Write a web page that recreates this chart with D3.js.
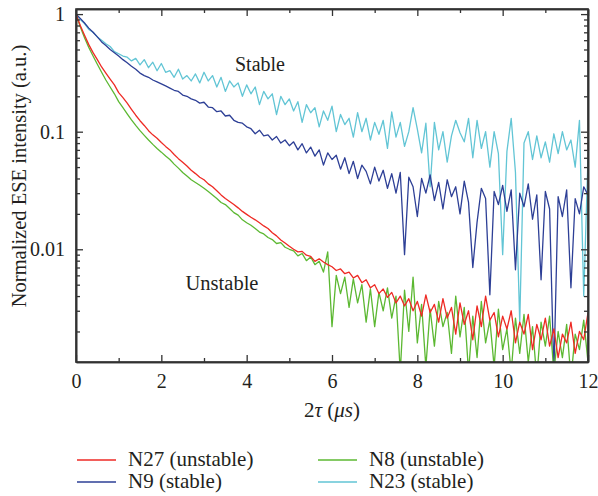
<!DOCTYPE html>
<html>
<head>
<meta charset="utf-8">
<script src="https://cdn.jsdelivr.net/npm/d3@7"></script>
<style>
  html, body { margin: 0; padding: 0; background: #fff; }
  svg { display: block; }
  text { font-family: "Liberation Serif", "Times New Roman", serif; fill: #231f20; }
</style>
</head>
<body>
<svg id="chart" width="598" height="496"></svg>
<script>
// ---- data ----
const sampleStep = 0.1; // µs between samples, t = 0 ... 12
const xTicks = [0, 2, 4, 6, 8, 10, 12];
const yTicks = [1, 0.1, 0.01];
const yTickLabels = ["1", "0.1", "0.01"];
const seriesNames = ["N27 (unstable)", "N8 (unstable)", "N9 (stable)", "N23 (stable)"];

const N27 = [
 1.0,0.80,0.66,0.55,0.47,0.41,0.355,0.315,0.28,0.25,
 0.215,0.195,0.175,0.155,0.138,0.124,0.113,0.102,0.094,0.088,
 0.081,0.075,0.070,0.064,0.059,0.055,0.051,0.047,0.044,0.041,
 0.039,0.036,0.034,0.0315,0.029,0.027,0.0255,0.024,0.0225,0.021,
 0.0198,0.0187,0.0178,0.0168,0.0158,0.0150,0.0138,0.0130,0.0120,0.0113,
 0.0106,0.0100,0.0095,0.0096,0.0089,0.0087,0.0079,0.0083,0.0078,0.0074,
 0.0071,0.0066,0.0068,0.0062,0.0064,0.0057,0.0060,0.0052,0.0055,0.0047,
 0.0050,0.0042,0.0046,0.0039,0.0043,0.0035,0.0040,0.0033,0.0038,0.0030,
 0.0036,0.0027,0.0041,0.0029,0.0034,0.0024,0.0038,0.0026,0.0032,0.0019,
 0.0035,0.0023,0.0030,0.0017,0.0033,0.0022,0.0040,0.0025,0.0029,0.0018,
 0.0027,0.0021,0.0030,0.0016,0.0024,0.0019,0.0028,0.0014,0.0023,0.0017,
 0.0026,0.0015,0.0021,0.0012,0.0019,0.0016,0.0024,0.0013,0.0020,0.0017,
 0.0029
];
const N8 = [
 1.0,0.78,0.63,0.52,0.44,0.375,0.32,0.275,0.24,0.21,
 0.18,0.16,0.142,0.126,0.113,0.102,0.093,0.085,0.078,0.072,
 0.067,0.062,0.058,0.053,0.049,0.045,0.042,0.039,0.037,0.035,
 0.033,0.031,0.029,0.027,0.025,0.024,0.0222,0.0205,0.0195,0.0178,
 0.0168,0.0160,0.0150,0.0140,0.0135,0.0126,0.0121,0.0112,0.0114,0.0104,
 0.0100,0.0097,0.0088,0.0092,0.0080,0.0086,0.0074,0.0079,0.0064,0.0095,
 0.0022,0.0060,0.0042,0.0058,0.0032,0.0056,0.0035,0.0050,0.0024,0.0046,
 0.0022,0.0043,0.0030,0.0047,0.0026,0.0040,0.0009,0.0045,0.0020,0.0058,
 0.0016,0.0034,0.0010,0.0031,0.0015,0.0036,0.0022,0.0029,0.0013,0.0040,
 0.0018,0.0032,0.0009,0.0027,0.0012,0.0036,0.0016,0.0025,0.0010,0.0031,
 0.0014,0.0021,0.0009,0.0026,0.0013,0.0028,0.0011,0.0022,0.0008,0.0024,
 0.0015,0.0027,0.0009,0.0020,0.0012,0.0023,0.0008,0.0019,0.0014,0.0025,
 0.0011
];
const N9 = [
 1.0,0.92,0.84,0.76,0.70,0.64,0.58,0.54,0.50,0.47,
 0.44,0.41,0.385,0.36,0.34,0.315,0.30,0.29,0.275,0.265,
 0.255,0.245,0.235,0.225,0.22,0.205,0.20,0.19,0.185,0.175,
 0.178,0.162,0.160,0.148,0.150,0.136,0.138,0.125,0.120,0.118,
 0.110,0.106,0.096,0.103,0.092,0.094,0.085,0.091,0.080,0.085,
 0.076,0.082,0.070,0.079,0.066,0.074,0.062,0.070,0.052,0.066,
 0.058,0.063,0.048,0.060,0.044,0.056,0.040,0.052,0.046,0.036,
 0.050,0.038,0.047,0.033,0.044,0.030,0.045,0.009,0.041,0.034,
 0.019,0.040,0.030,0.043,0.026,0.037,0.022,0.039,0.028,0.034,
 0.020,0.038,0.025,0.007,0.017,0.033,0.027,0.0041,0.031,0.024,
 0.035,0.021,0.032,0.0067,0.030,0.023,0.036,0.018,0.029,0.0055,
 0.031,0.022,0.0009,0.028,0.019,0.032,0.0047,0.027,0.020,0.034,
 0.029
];
const N23 = [
 1.0,0.90,0.83,0.74,0.70,0.64,0.60,0.56,0.53,0.48,
 0.46,0.44,0.43,0.40,0.42,0.37,0.41,0.35,0.39,0.33,
 0.38,0.32,0.33,0.29,0.34,0.28,0.30,0.27,0.31,0.26,
 0.32,0.27,0.30,0.24,0.29,0.22,0.27,0.24,0.26,0.20,
 0.25,0.21,0.24,0.17,0.22,0.19,0.21,0.14,0.20,0.17,
 0.19,0.15,0.18,0.12,0.17,0.145,0.16,0.11,0.15,0.125,
 0.165,0.10,0.14,0.115,0.13,0.09,0.145,0.10,0.13,0.085,
 0.12,0.095,0.125,0.072,0.147,0.09,0.12,0.075,0.10,0.16,
 0.105,0.066,0.118,0.034,0.12,0.07,0.10,0.055,0.092,0.125,
 0.098,0.082,0.13,0.06,0.125,0.072,0.10,0.05,0.10,0.065,
 0.009,0.068,0.13,0.045,0.0024,0.08,0.10,0.058,0.092,0.06,
 0.082,0.055,0.096,0.065,0.10,0.07,0.085,0.05,0.125,0.004,
 0.06
];

const seriesValues = [N27, N8, N9, N23];
const seriesColors = ["#ee2a24", "#5cb832", "#2d3f96", "#62c5d5"];

// ---- layout ----
const svg = d3.select("#chart");
const L = 76, R = 588, T = 9, B = 362;
const x = d3.scaleLinear().domain([0, 12]).range([L, R]);
const y = d3.scaleLog().domain([0.0011, 1.105]).range([B, T]);

const axisColor = "#333";
const FONT = '"Liberation Serif", "Times New Roman", serif';

// clip
svg.append("defs").append("clipPath").attr("id", "plotclip")
  .append("rect").attr("x", L).attr("y", T).attr("width", R - L).attr("height", B - T);

// lines (draw order: cyan, blue, green, red)
const line = d3.line().x(d => x(d[0])).y(d => y(Math.max(d[1], 1e-5)));
const drawOrder = [3, 2, 1, 0];
const gLines = svg.append("g").attr("clip-path", "url(#plotclip)");
drawOrder.forEach(i => {
  const pts = seriesValues[i].map((v, k) => [k * sampleStep, v]);
  gLines.append("path")
    .attr("d", line(pts))
    .attr("fill", "none")
    .attr("stroke", seriesColors[i])
    .attr("stroke-width", 1.3)
    .attr("stroke-linejoin", "round");
});

// axes with inward ticks
const minorX = d3.range(1, 12, 2);
const minorY = [];
[0.001, 0.01, 0.1].forEach(dec => { for (let m = 2; m <= 9; m++) { const v = dec * m; if (v >= 0.0011 && v <= 1.105) minorY.push(v); } });

function axisG(axis, tx, ty) {
  const g = svg.append("g").attr("transform", `translate(${tx},${ty})`).call(axis);
  g.attr("font-family", FONT);
  g.selectAll("path.domain").attr("stroke", axisColor).attr("stroke-width", 1.6);
  g.selectAll(".tick line").attr("stroke", axisColor).attr("stroke-width", 1.3);
  g.selectAll(".tick text").style("font-family", FONT).style("font-size", "20px").attr("fill", "#231f20");
  return g;
}
// bottom
axisG(d3.axisBottom(x).tickValues(xTicks).tickSize(-7).tickSizeOuter(0).tickPadding(12).tickFormat(d3.format("d")), 0, B);
axisG(d3.axisBottom(x).tickValues(minorX).tickSize(-4).tickSizeOuter(0).tickFormat(""), 0, B);
// top
axisG(d3.axisTop(x).tickValues(xTicks).tickSize(-7).tickSizeOuter(0).tickFormat(""), 0, T);
axisG(d3.axisTop(x).tickValues(minorX).tickSize(-4).tickSizeOuter(0).tickFormat(""), 0, T);
// left
axisG(d3.axisLeft(y).tickValues(yTicks).tickSize(-7).tickSizeOuter(0).tickPadding(11).tickFormat((d, i) => yTickLabels[i]), L, 0);
axisG(d3.axisLeft(y).tickValues(minorY).tickSize(-4).tickSizeOuter(0).tickFormat(""), L, 0);
// right
axisG(d3.axisRight(y).tickValues(yTicks).tickSize(-7).tickSizeOuter(0).tickFormat(""), R, 0);
axisG(d3.axisRight(y).tickValues(minorY).tickSize(-4).tickSizeOuter(0).tickFormat(""), R, 0);

// frame
svg.append("rect").attr("x", L).attr("y", T).attr("width", R - L).attr("height", B - T)
  .attr("fill", "none").attr("stroke", axisColor).attr("stroke-width", 1.6);

// annotations
svg.append("text").attr("x", 260).attr("y", 71).attr("text-anchor", "middle")
  .style("font-size", "20px").text("Stable");
svg.append("text").attr("x", 222).attr("y", 290).attr("text-anchor", "middle")
  .style("font-size", "20.5px").text("Unstable");

// axis titles
const xl = svg.append("text").attr("x", 332).attr("y", 417).attr("text-anchor", "middle")
  .style("font-size", "21px");
xl.append("tspan").text("2");
xl.append("tspan").style("font-style", "italic").text("τ");
xl.append("tspan").text(" (");
xl.append("tspan").style("font-style", "italic").text("μs");
xl.append("tspan").text(")");

svg.append("text").attr("transform", `translate(26,176) rotate(-90)`)
  .attr("text-anchor", "middle").style("font-size", "20.5px")
  .text("Normalized ESE intensity (a.u.)");

// legend
const legendPos = [[77, 460], [318, 460], [77, 482], [318, 482]];
seriesNames.forEach((name, i) => {
  const [lx, ly] = legendPos[i];
  svg.append("line").attr("x1", lx).attr("x2", lx + 39).attr("y1", ly).attr("y2", ly)
    .attr("stroke", seriesColors[i]).attr("stroke-width", 1.5);
  svg.append("text").attr("x", lx + 51).attr("y", ly + 6).style("font-size", "21px").text(name);
});
</script>
</body>
</html>
